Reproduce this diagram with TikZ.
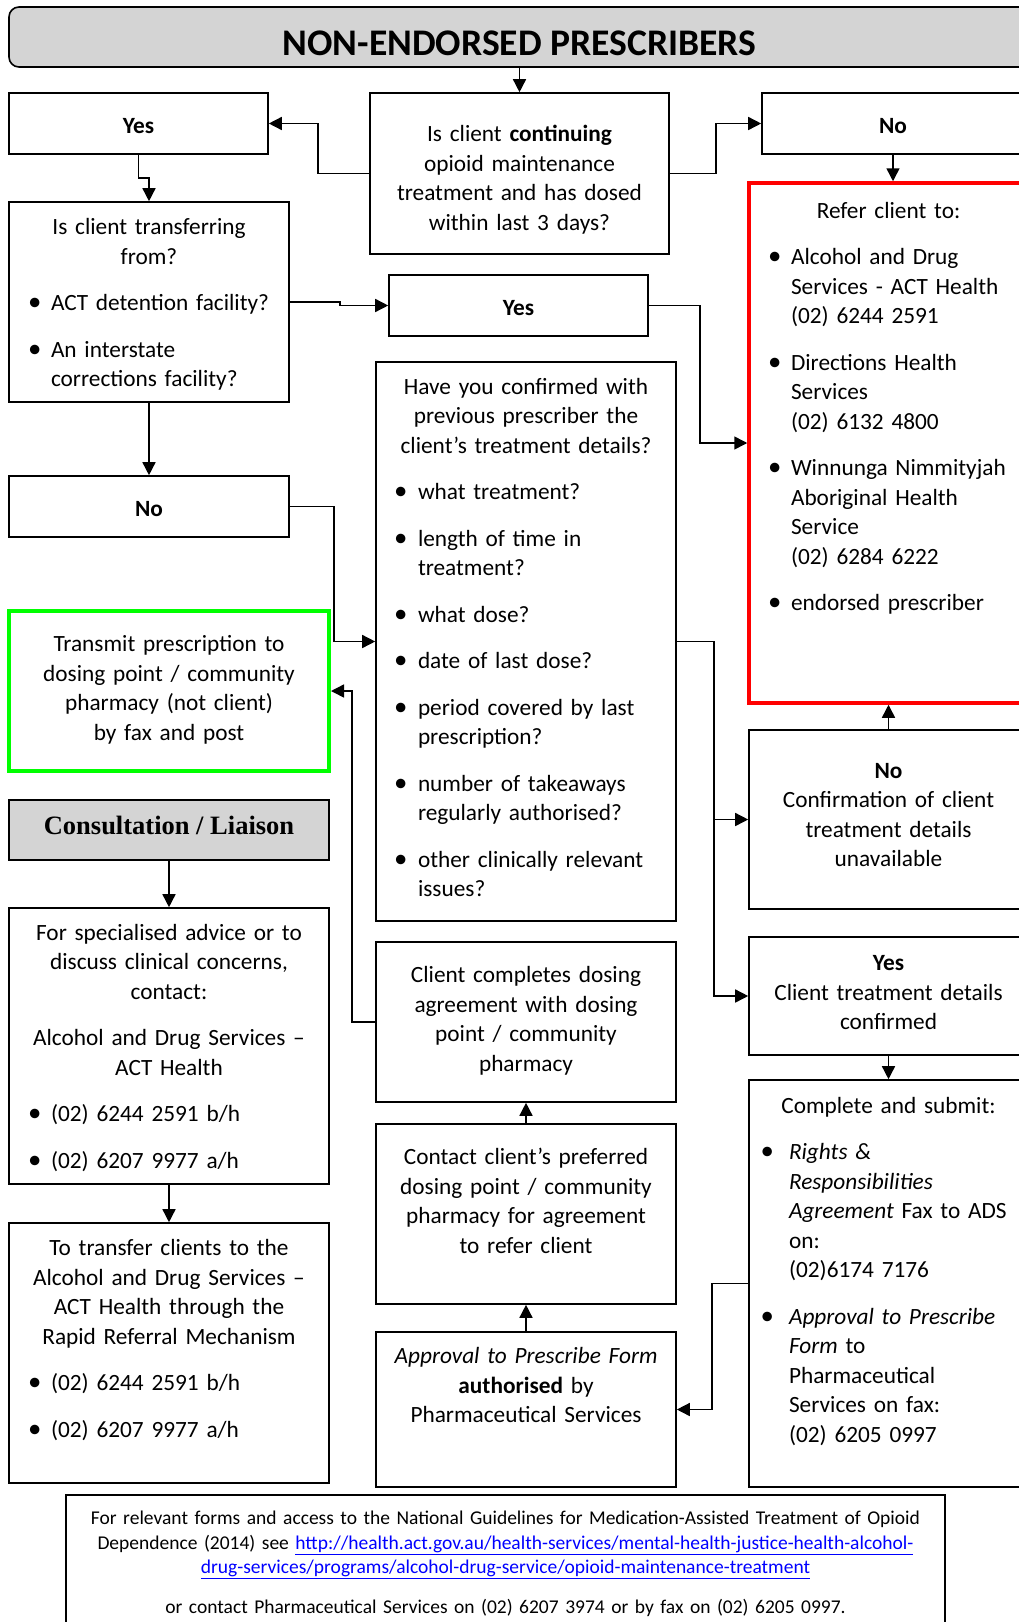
\documentclass[tikz,border=0pt]{standalone}
\usepackage{fontspec}
\setmainfont{Carlito}
\newfontfamily\libserif{Liberation Serif}
\usetikzlibrary{arrows.meta}

\definecolor{boxgray}{RGB}{212,212,212}
\definecolor{refred}{RGB}{255,0,0}
\definecolor{okgreen}{RGB}{0,255,0}
\definecolor{linkblue}{RGB}{0,0,255}

\newcommand{\bodyfont}{\fontsize{23.3}{29.5}\selectfont}
\newcommand{\footfont}{\fontsize{19.5}{24.4}\selectfont}
\newcommand{\nl}{\unskip\break}
\newcommand{\bul}[1][23pt]{\par\noindent\leftskip=0pt\rightskip=-40pt plus 1fil\relax\parfillskip=0pt\relax\hangindent=#1\relax\hangafter=1\relax\makebox[#1][l]{\scalebox{1.15}{\textbullet}}\ignorespaces}

\tikzset{
  box/.style={draw,rectangle,line width=1.6pt,inner sep=0pt},
  yesno/.style={box,font=\bodyfont\bfseries,text height=20.5pt,text depth=0pt},
  txt/.style={anchor=north,inner sep=0pt,font=\bodyfont,execute at begin node={\setlength{\parskip}{17pt}}},
  conn/.style={line width=1.5pt,-{Triangle[length=13pt,width=13pt]}},
}

\begin{document}
\begin{tikzpicture}[x=1pt,y=-1pt]
\useasboundingbox (0,0) rectangle (1019,1622);
% title
\node[box,fill=boxgray,rounded corners=10pt,minimum width=1021pt,minimum height=60pt,text height=37pt,text depth=0pt,font=\fontsize{37.6}{45}\selectfont\bfseries] (TITLE) at (519.5,37) {NON-ENDORSED PRESCRIBERS};
% first question
\node[box,minimum width=299pt,minimum height=161pt] (Q1) at (519.5,173.5) {};
\node[txt,text width=285pt] (Q1t) at ([yshift=-28.5pt]Q1.north) {\centering\strut Is client \textbf{continuing}\nl opioid maintenance\nl treatment and has dosed\nl within last 3 days?\par};
\node[yesno,minimum width=259pt,minimum height=61pt] (YES1) at (138.5,123.5) {Yes};
\node[yesno,minimum width=262pt,minimum height=61pt] (NO1) at (893,123.5) {No};
% left column
\node[box,minimum width=280pt,minimum height=200pt] (TRANS) at (149,302) {};
\node[txt,text width=242pt] (TRANSt) at ([yshift=-12.5pt]TRANS.north) {\centering\strut Is client transferring\nl from?\par
\bul ACT detention facility?
\bul An interstate\nl corrections facility?\par};
\node[yesno,minimum width=280pt,minimum height=61pt] (NO2) at (149,506.5) {No};
\node[box,draw=okgreen,line width=4pt,minimum width=320pt,minimum height=160pt] (GREEN) at (169,691) {};
\node[txt,text width=300pt] (GREENt) at ([yshift=-22pt]GREEN.north) {\centering\strut Transmit prescription to\nl dosing point / community\nl pharmacy (not client)\nl by fax and post\par};
\node[box,fill=boxgray,minimum width=320pt,minimum height=60pt,text height=19pt,text depth=11pt,font=\libserif\fontsize{26.5}{30}\selectfont\bfseries] (CONS) at (169,830) {Consultation / Liaison};
\node[box,minimum width=320pt,minimum height=276pt] (SPEC) at (169,1046) {};
\node[txt,text width=282pt] (SPECt) at ([yshift=-12pt]SPEC.north) {\centering\strut For specialised advice or to\nl discuss clinical concerns,\nl contact:\par
Alcohol and Drug Services –\nl ACT Health\par
\bul (02) 6244 2591 b/h
\bul (02) 6207 9977 a/h\par};
\node[box,minimum width=320pt,minimum height=260pt] (XFER) at (169,1353) {};
\node[txt,text width=282pt] (XFERt) at ([yshift=-12.5pt]XFER.north) {\centering\strut To transfer clients to the\nl Alcohol and Drug Services –\nl ACT Health through the\nl Rapid Referral Mechanism\par
\bul (02) 6244 2591 b/h
\bul (02) 6207 9977 a/h\par};
% middle column
\node[yesno,minimum width=259pt,minimum height=61pt] (YES2) at (518.5,305.5) {Yes};
\node[box,minimum width=300pt,minimum height=559pt] (HAVE) at (526,641.5) {};
\node[txt,text width=264pt] (HAVEt) at ([yshift=-12pt]HAVE.north) {\centering\strut Have you confirmed with\nl previous prescriber the\nl client’s treatment details?\par
\bul[24pt] what treatment?
\bul[24pt] length of time in\nl treatment?
\bul[24pt] what dose?
\bul[24pt] date of last dose?
\bul[24pt] period covered by last\nl prescription?
\bul[24pt] number of takeaways\nl regularly authorised?
\bul[24pt] other clinically relevant\nl issues?\par};
\node[box,minimum width=300pt,minimum height=160pt] (CLIENT) at (526,1022) {};
\node[txt,text width=285pt] (CLIENTt) at ([yshift=-20.5pt]CLIENT.north) {\centering\strut Client completes dosing\nl agreement with dosing\nl point / community\nl pharmacy\par};
\node[box,minimum width=300pt,minimum height=180pt] (CONTACT) at (526,1214) {};
\node[txt,text width=285pt] (CONTACTt) at ([yshift=-20.5pt]CONTACT.north) {\centering\strut Contact client’s preferred\nl dosing point / community\nl pharmacy for agreement\nl to refer client\par};
\node[box,minimum width=300pt,minimum height=155.5pt] (APPR) at (526,1409.5) {};
\node[txt,text width=285pt] (APPRt) at ([yshift=-12pt]APPR.north) {\centering\strut\textit{Approval to Prescribe Form}\nl \textbf{authorised} by\nl Pharmaceutical Services\par};
% right column
\node[box,draw=refred,line width=3.5pt,minimum width=279pt,minimum height=520pt] (REF) at (888.5,443) {};
\node[txt,text width=241pt] (REFt) at ([yshift=-16pt]REF.north) {\centering\strut Refer client to:\par
\bul Alcohol and Drug\nl Services - ACT Health\nl (02) 6244 2591
\bul Directions Health\nl Services\nl (02) 6132 4800
\bul Winnunga Nimmityjah\nl Aboriginal Health\nl Service\nl (02) 6284 6222
\bul endorsed prescriber\par};
\node[box,minimum width=279pt,minimum height=179pt] (NOC) at (888.5,819.5) {};
\node[txt,text width=265pt] (NOCt) at ([yshift=-28pt]NOC.north) {\centering\strut\textbf{No}\nl Confirmation of client\nl treatment details\nl unavailable\par};
\node[box,minimum width=279pt,minimum height=117.5pt] (YESC) at (888.5,996) {};
\node[txt,text width=265pt] (YESCt) at ([yshift=-13.5pt]YESC.north) {\centering\strut\textbf{Yes}\nl Client treatment details\nl confirmed\par};
\node[box,minimum width=279pt,minimum height=407pt] (COMPL) at (888.5,1283.5) {};
\node[txt,text width=256pt] (COMPLt) at ([yshift=-13pt]COMPL.north) {\centering\strut Complete and submit:\par
\bul[28.5pt] \textit{Rights \&}\nl \textit{Responsibilities}\nl \textit{Agreement} Fax to ADS\nl on:\nl (02)6174 7176
\bul[28.5pt] \textit{Approval to Prescribe}\nl \textit{Form} to\nl Pharmaceutical\nl Services on fax:\nl (02) 6205 0997\par};
% footer
\node[box,minimum width=879pt,minimum height=145pt] (FOOT) at (505.5,1567.5) {};
\node[txt,text width=860pt,font=\footfont] (FOOTt) at ([yshift=-13.5pt]FOOT.north) {\setlength{\parskip}{15pt}\centering\strut For relevant forms and access to the National Guidelines for Medication-Assisted Treatment of Opioid\nl Dependence (2014) see \textcolor{linkblue}{\underline{http://health.act.gov.au/health-services/mental-health-justice-health-alcohol-}}\nl \textcolor{linkblue}{\underline{drug-services/programs/alcohol-drug-service/opioid-maintenance-treatment}}\par
or contact Pharmaceutical Services on (02) 6207 3974 or by fax on (02) 6205 0997.\par};
% connectors
\draw[conn] (TITLE.south) -- (Q1.north);
\draw[conn] (Q1.west) -- ++(-51,0) |- (YES1.east);
\draw[conn] (Q1.east) -- ++(46,0) |- (NO1.west);
\draw[conn] (YES1.south) -- ++(0,23) -| (TRANS.north);
\draw[conn] (NO1.south) -- (NO1.south |- REF.north);
\draw[conn] (TRANS.east) -- ++(50,0) |- (YES2.west);
\draw[conn] (YES2.east) -- ++(51,0) |- (REF.west);
\draw[conn] (TRANS.south) -- (NO2.north);
\draw[conn] (NO2.east) -- ++(44,0) |- (HAVE.west);
\draw[conn] (HAVE.east) -- ++(37,0) |- (NOC.west);
\draw[conn] (HAVE.east) -- ++(37,0) |- (YESC.west);
\draw[conn] (NOC.north) -- (REF.south);
\draw[conn] (CLIENT.west) -- ++(-23,0) |- (GREEN.east);
\draw[conn] (CONS.south) -- (SPEC.north);
\draw[conn] (SPEC.south) -- (XFER.north);
\draw[conn] (YESC.south) -- (COMPL.north);
\draw[conn] (APPR.north) -- (CONTACT.south);
\draw[conn] (CONTACT.north) -- (CLIENT.south);
\draw[conn] (COMPL.west) -- ++(-36,0) |- (APPR.east);
\end{tikzpicture}
\end{document}
